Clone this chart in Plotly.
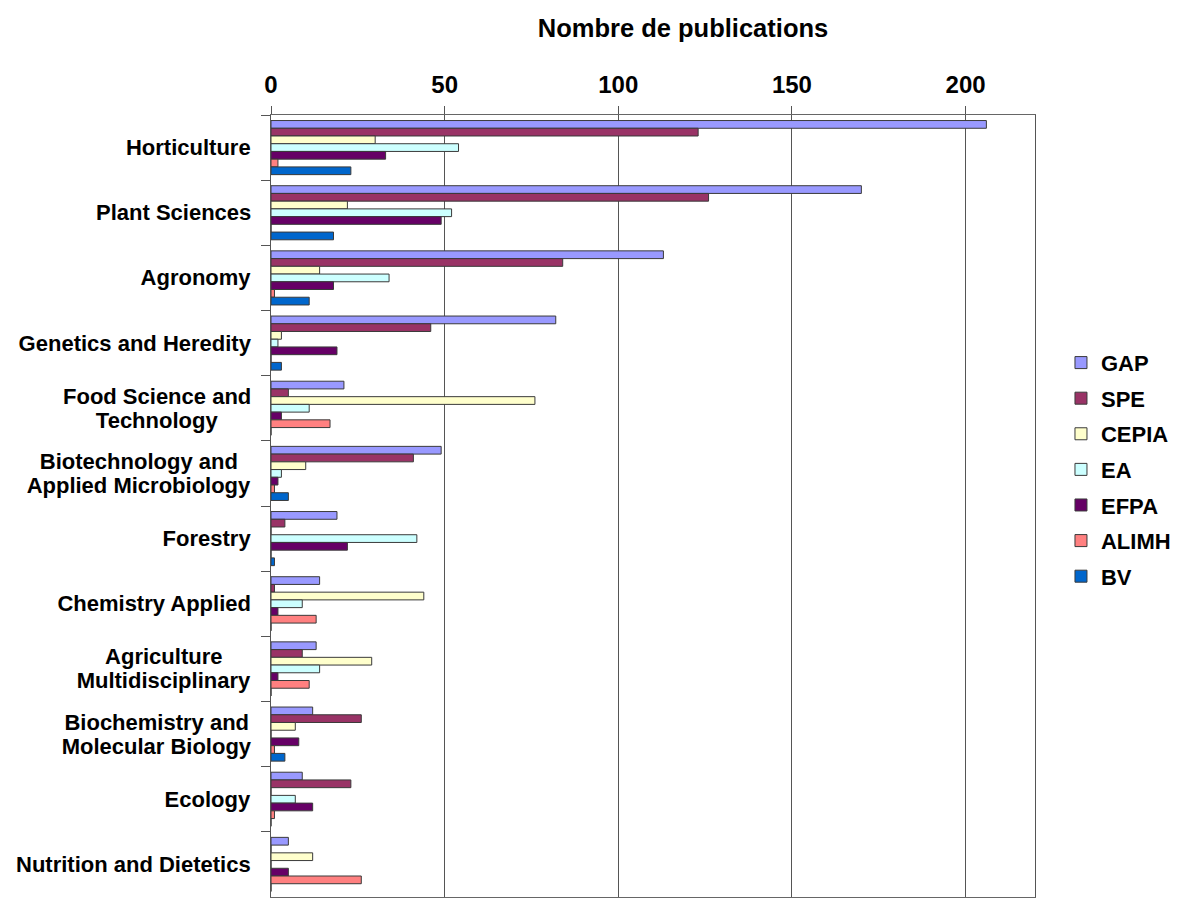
import plotly.graph_objects as go

categories = [
    "Horticulture",
    "Plant Sciences",
    "Agronomy",
    "Genetics and Heredity",
    "Food Science and\nTechnology",
    "Biotechnology and\nApplied Microbiology",
    "Forestry",
    "Chemistry Applied",
    "Agriculture\nMultidisciplinary",
    "Biochemistry and\nMolecular Biology",
    "Ecology",
    "Nutrition and Dietetics",
]

series_names = ["GAP", "SPE", "CEPIA", "EA", "EFPA", "ALIMH", "BV"]

gap = [206, 170, 113, 82, 21, 49, 19, 14, 13, 12, 9, 5]
spe = [123, 126, 84, 46, 5, 41, 4, 1, 9, 26, 23, 0]
cepia = [30, 22, 14, 3, 76, 10, 0, 44, 29, 7, 0, 12]
ea = [54, 52, 34, 2, 11, 3, 42, 9, 14, 0, 7, 0]
efpa = [33, 49, 18, 19, 3, 2, 22, 2, 2, 8, 12, 5]
alimh = [2, 0, 1, 0, 17, 1, 0, 13, 11, 1, 1, 26]
bv = [23, 18, 11, 3, 0, 5, 1, 0, 0, 4, 0, 0]

series_values = [gap, spe, cepia, ea, efpa, alimh, bv]
colors = ["#9999FF", "#993366", "#FFFFCC", "#CCFFFF", "#660066", "#FF8080", "#0066CC"]

x_ticks = [0, 50, 100, 150, 200]

FONT = "Liberation Sans, Arial, sans-serif"
LABEL_SIZE = 22
LINE_STEP = 24  # px between the two lines of a wrapped category label

# Bold sans advance widths (per 1000 em) used to size centred label blocks
ADV = {
    " ": 278, "A": 722, "B": 722, "C": 722, "D": 722, "E": 667, "F": 611,
    "G": 778, "H": 722, "M": 833, "N": 722, "P": 667, "S": 667, "T": 611,
    "a": 556, "b": 611, "c": 556, "d": 611, "e": 556, "f": 333, "g": 611,
    "h": 611, "i": 278, "l": 278, "m": 889, "n": 611, "o": 611, "p": 611,
    "r": 389, "s": 556, "t": 333, "u": 611, "y": 556,
}


def text_width(s, size):
    return sum(ADV.get(ch, 600) for ch in s) * size / 1000.0


fig = go.Figure()
for name, vals, col in zip(series_names, series_values, colors):
    fig.add_trace(go.Bar(
        y=categories,
        x=vals,
        name="<b>%s</b>" % name,
        orientation="h",
        marker=dict(color=col, line=dict(color="#3a3a3a", width=1)),
        legendgroup=name,
    ))

# category labels: block right-aligned against the axis, lines centred
for cat in categories:
    lines = cat.split("\n")
    block_w = max(text_width(l, LABEL_SIZE) for l in lines) + 4
    n = len(lines)
    for i, line in enumerate(lines):
        fig.add_annotation(
            x=0, xref="paper", xanchor="right", xshift=-16,
            y=cat, yref="y", yanchor="middle",
            yshift=((n - 1) / 2 - i) * LINE_STEP,
            text="<b>%s</b>" % line, showarrow=False,
            align="center", width=block_w,
            font=dict(family=FONT, size=LABEL_SIZE, color="#000000"),
        )

fig.update_layout(
    width=1177, height=899,
    margin=dict(l=271, r=142, t=115, b=2, autoexpand=False),
    paper_bgcolor="white", plot_bgcolor="white",
    barmode="group", bargap=0.17, bargroupgap=0,
    title=dict(
        text="<b>Nombre de publications</b>",
        x=683 / 1177, xanchor="center", xref="container",
        y=1 - 28 / 899, yanchor="middle", yref="container",
        font=dict(family=FONT, size=25.5, color="#000000"),
    ),
    legend=dict(
        x=1.034, xanchor="left", y=0.71, yanchor="top",
        font=dict(family=FONT, size=22, color="#000000"),
        tracegroupgap=4, itemwidth=30,
        bgcolor="rgba(0,0,0,0)",
    ),
    showlegend=True,
)

fig.update_xaxes(
    side="top", range=[0, 220], tickvals=x_ticks,
    ticktext=["<b>%d</b>" % v for v in x_ticks],
    tickfont=dict(family=FONT, size=24, color="#000000"),
    ticklabelstandoff=3,
    showgrid=True, gridcolor="#555555", gridwidth=1,
    showline=True, linecolor="#666666", linewidth=1, mirror=True,
    ticks="outside", ticklen=8, tickcolor="#555555",
    zeroline=False,
)

fig.update_yaxes(
    type="category", autorange="reversed",
    showticklabels=False,
    tickson="boundaries", ticks="outside", ticklen=9, tickcolor="#555555",
    showline=True, linecolor="#555555", linewidth=1, mirror=True,
    showgrid=False,
)

fig.write_html("out.html")
